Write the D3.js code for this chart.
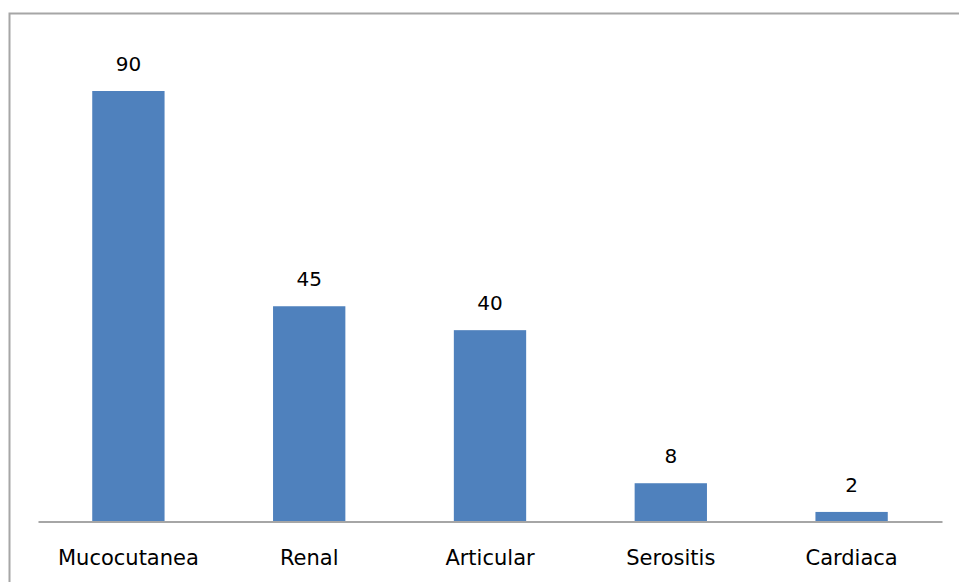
<!DOCTYPE html>
<html>
<head>
    <meta charset="utf-8">
    <script src="https://d3js.org/d3.v7.min.js"></script>
    <style>
        body { margin: 0; background: #fff; }
        text { font-family: "DejaVu Sans", sans-serif; fill: #000; }
    </style>
</head>
<body>
<script>
    // data
    let categories = ["Mucocutanea", "Renal", "Articular", "Serositis", "Cardiaca"];
    let values = [90, 45, 40, 8, 2];

    let width = 959;
    let height = 582;
    let plotLeft = 38, plotRight = 942, plotBase = 521.5, plotTop = 91;

    let svg = d3.select("body").append("svg")
        .attr("width", width)
        .attr("height", height);

    // chart frame (runs off the right and bottom edges)
    svg.append("rect")
        .attr("x", 9.5).attr("y", 13.5)
        .attr("width", 980).attr("height", 600)
        .attr("fill", "none")
        .attr("stroke", "#a6a6a6")
        .attr("stroke-width", 2);

    let x_scale = d3.scaleBand()
        .domain(categories)
        .range([plotLeft, plotRight])
        .paddingInner(0.6)
        .paddingOuter(0.3);

    let y_scale = d3.scaleLinear()
        .domain([0, 90])
        .range([plotBase, plotTop]);

    svg.selectAll("rect.bar")
        .data(values)
        .enter()
        .append("rect")
        .attr("class", "bar")
        .attr("x", (d, i) => x_scale(categories[i]))
        .attr("y", d => y_scale(d))
        .attr("width", x_scale.bandwidth())
        .attr("height", d => plotBase - y_scale(d))
        .attr("fill", "#4f81bd");

    // value labels
    svg.selectAll("text.val")
        .data(values)
        .enter()
        .append("text")
        .attr("class", "val")
        .attr("x", (d, i) => x_scale(categories[i]) + x_scale.bandwidth() / 2)
        .attr("y", d => y_scale(d) - 20)
        .attr("text-anchor", "middle")
        .style("font-size", "20px")
        .text(d => d);

    // x axis
    let x_axis = d3.axisBottom(x_scale).tickSize(0).tickPadding(0);
    let g = svg.append("g")
        .attr("transform", "translate(0," + plotBase + ")")
        .call(x_axis);
    g.select(".domain").attr("stroke", "#a6a6a6").attr("stroke-width", 2);
    g.selectAll(".tick text")
        .attr("y", 43.5)
        .attr("dy", null)
        .style("font-size", "21px")
        .style("font-family", "'DejaVu Sans', sans-serif")
        .attr("fill", "#000");
</script>
</body>
</html>
